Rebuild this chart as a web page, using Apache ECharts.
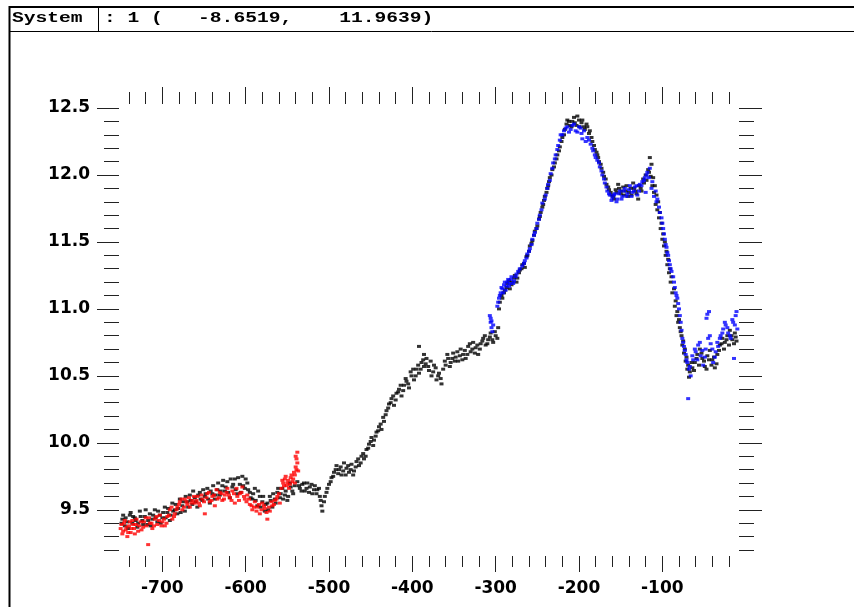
<!DOCTYPE html>
<html lang="en">
<head>
    <meta charset="UTF-8">
    <title>System 1</title>
    <script src="https://cdn.jsdelivr.net/npm/echarts@6/dist/echarts.min.js"></script>
</head>
<style>
    *{
        margin: 0;
        padding: 0;
    }
    html,body{
        width: 100%;
        height: 100%;
        overflow: hidden;
        background: #fff;
    }
    .container{
        width: 854px;
        height: 607px;
    }
</style>
<body>
<div class="container"></div>
<script>
    // tick positions
    let xMajor = [-700, -600, -500, -400, -300, -200, -100];
    let xMinor = [-740, -720, -700, -680, -660, -640, -620, -600, -580, -560, -540, -520, -500, -480, -460,
        -440, -420, -400, -380, -360, -340, -320, -300, -280, -260, -240, -220, -200, -180, -160, -140,
        -120, -100, -80, -60, -40, -20];
    let yMajor = [9.5, 10.0, 10.5, 11.0, 11.5, 12.0, 12.5];
    let yMinor = [9.2, 9.3, 9.4, 9.5, 9.6, 9.7, 9.8, 9.9, 10.0, 10.1, 10.2, 10.3, 10.4, 10.5, 10.6, 10.7,
        10.8, 10.9, 11.0, 11.1, 11.2, 11.3, 11.4, 11.5, 11.6, 11.7, 11.8, 11.9, 12.0, 12.1, 12.2, 12.3, 12.4, 12.5];

    // black points
    let blackPts = [
        [-748,9.43],[-745,9.38],[-742,9.41],[-739,9.46],[-736,9.40],[-733,9.44],[-730,9.37],[-727,9.49],[-724,9.42],
        [-721,9.45],[-718,9.39],[-715,9.47],[-712,9.43],[-709,9.50],[-706,9.41],[-703,9.46],[-700,9.44],[-697,9.52],
        [-694,9.48],[-691,9.42],[-688,9.55],[-685,9.50],[-682,9.47],[-679,9.58],[-676,9.53],[-673,9.49],[-670,9.56],
        [-667,9.61],[-664,9.54],[-661,9.59],[-658,9.52],[-655,9.63],[-652,9.57],[-649,9.60],[-646,9.66],[-643,9.55],
        [-640,9.62],[-637,9.58],[-634,9.65],[-631,9.61],[-628,9.68],[-625,9.64],[-622,9.71],[-619,9.59],[-616,9.67],
        [-613,9.73],[-610,9.62],[-607,9.69],[-604,9.75],[-601,9.66],[-598,9.70],[-595,9.63],[-592,9.58],[-589,9.66],
        [-586,9.53],[-583,9.60],[-580,9.56],[-577,9.49],[-574,9.55],[-571,9.60],[-568,9.52],[-565,9.58],[-562,9.63],
        [-559,9.59],[-556,9.66],[-553,9.61],[-550,9.57],[-547,9.70],[-544,9.64],[-541,9.68],
        [-749,9.40],[-747,9.46],[-744,9.44],[-741,9.36],[-738,9.48],[-735,9.45],[-732,9.42],[-729,9.40],[-726,9.45],
        [-723,9.39],[-720,9.50],[-717,9.42],[-714,9.38],[-711,9.46],[-708,9.44],[-705,9.49],[-702,9.40],[-699,9.48],
        [-696,9.44],[-693,9.51],[-690,9.46],[-687,9.49],[-684,9.54],[-681,9.51],[-678,9.48],[-675,9.56],[-672,9.60],
        [-669,9.52],[-666,9.57],[-663,9.64],[-660,9.56],[-657,9.61],[-654,9.58],[-651,9.65],[-648,9.62],[-645,9.58],
        [-642,9.64],[-639,9.68],[-636,9.61],[-633,9.70],[-630,9.64],[-627,9.72],[-624,9.67],[-621,9.63],[-618,9.73],
        [-615,9.69],[-612,9.65],[-609,9.74],[-606,9.63],[-603,9.68],[-600,9.73],[-597,9.65],[-594,9.59],[-591,9.62],
        [-588,9.57],[-585,9.64],[-582,9.52],[-579,9.60],[-576,9.54],[-573,9.50],[-570,9.57],[-567,9.62],[-564,9.55],
        [-561,9.66],[-558,9.62],[-555,9.58],[-552,9.64],[-549,9.60],[-546,9.67],[-543,9.62],
        [-538,9.71],[-535,9.66],[-532,9.69],[-529,9.64],[-526,9.70],[-523,9.67],[-520,9.62],[-517,9.68],[-514,9.65],
        [-511,9.60],[-509,9.53],[-508,9.49],[-506,9.56],[-503,9.63],[-500,9.69],[-497,9.74],
        [-536,9.68],[-533,9.64],[-530,9.70],[-527,9.66],[-524,9.63],[-521,9.69],[-518,9.65],[-515,9.62],[-512,9.66],
        [-510,9.57],[-505,9.60],[-502,9.66],[-498,9.71],
        [-494,9.78],[-491,9.83],[-488,9.80],[-485,9.76],[-482,9.85],[-479,9.81],[-476,9.78],[-473,9.84],[-470,9.79],
        [-467,9.86],[-464,9.83],[-461,9.90],[-458,9.88],
        [-495,9.75],[-492,9.80],[-489,9.77],[-486,9.82],[-483,9.79],[-480,9.76],[-477,9.83],[-474,9.80],[-471,9.76],
        [-468,9.82],[-465,9.88],[-462,9.85],[-459,9.92],[-456,9.90],
        [-455,9.95],[-452,9.99],[-449,10.04],[-446,10.02],[-443,10.08],[-440,10.12],[-437,10.10],[-434,10.16],
        [-453,9.96],[-450,10.01],[-447,9.98],[-444,10.05],[-441,10.09],[-438,10.14],[-435,10.19],
        [-431,10.24],[-428,10.29],[-425,10.33],[-422,10.28],[-419,10.37],[-416,10.40],[-413,10.35],[-410,10.43],
        [-407,10.46],[-404,10.41],
        [-432,10.21],[-429,10.26],[-426,10.30],[-423,10.35],[-420,10.32],[-417,10.38],[-414,10.43],[-411,10.39],
        [-408,10.48],[-405,10.44],
        [-401,10.50],[-398,10.47],[-395,10.55],[-392,10.52],[-389,10.60],[-386,10.57],[-383,10.63],[-380,10.54],
        [-377,10.50],[-374,10.58],[-371,10.47],[-368,10.52],[-365,10.44],[-392,10.72],[-386,10.66],
        [-402,10.53],[-399,10.55],[-396,10.50],[-393,10.58],[-390,10.55],[-387,10.62],[-384,10.59],[-381,10.57],
        [-378,10.61],[-375,10.53],[-372,10.56],[-369,10.50],[-366,10.48],[-363,10.55],
        [-360,10.58],[-357,10.63],[-354,10.60],[-351,10.67],[-348,10.64],[-345,10.61],[-342,10.70],[-339,10.66],
        [-336,10.63],[-333,10.72],[-330,10.68],[-327,10.75],[-324,10.71],[-321,10.66],[-318,10.74],[-315,10.78],
        [-312,10.73],[-309,10.77],[-306,10.82],[-303,10.75],[-300,10.80],[-297,10.86],
        [-361,10.61],[-358,10.66],[-355,10.57],[-352,10.63],[-349,10.61],[-346,10.68],[-343,10.65],[-340,10.62],
        [-337,10.69],[-334,10.66],[-331,10.74],[-328,10.70],[-325,10.67],[-322,10.73],[-319,10.70],[-316,10.76],
        [-313,10.80],[-310,10.74],[-307,10.79],[-304,10.77],[-301,10.83],[-298,10.78],
        [-296,11.00],[-293,11.10],[-290,11.12],[-287,11.16],[-284,11.21],[-281,11.18],[-278,11.23],[-275,11.20],
        [-272,11.27],[-269,11.30],[-266,11.34],[-263,11.39],[-260,11.43],[-257,11.49],[-254,11.55],[-251,11.60],
        [-248,11.67],[-246,11.72],[-243,11.78],[-241,11.84],[-238,11.90],[-236,11.95],[-233,12.00],[-230,12.06],
        [-227,12.12],[-224,12.18],[-221,12.25],[-218,12.30],[-215,12.38],[-212,12.40],[-209,12.36],[-206,12.43],
        [-203,12.37],[-200,12.41],[-197,12.39],[-194,12.36],[-191,12.38],[-188,12.31],[-185,12.28],[-182,12.22],
        [-179,12.17],[-177,12.13],[-174,12.08],[-171,12.02],[-168,11.97],[-165,11.91],[-162,11.87],[-159,11.84],
        [-156,11.89],[-153,11.93],[-150,11.86],[-147,11.91],[-144,11.88],[-141,11.84],[-138,11.90],[-135,11.94],
        [-132,11.88],[-129,11.82],[-126,11.90],[-123,11.97],[-120,12.00],[-117,12.04],[-115,12.13],[-113,12.08],
        [-111,11.98],[-109,11.92],[-107,11.85],[-105,11.80],[-103,11.72],[-101,11.64],[-99,11.56],[-97,11.50],
        [-95,11.43],[-93,11.37],[-91,11.30],[-89,11.24],[-86,11.15],[-84,11.06],[-82,10.98],[-80,10.92],
        [-79,10.86],[-77,10.80],[-75,10.76],[-73,10.70],[-71,10.64],[-69,10.58],[-67,10.53],[-64,10.56],
        [-61,10.60],[-58,10.66],[-55,10.70],[-52,10.63],[-49,10.57],[-46,10.65],[-43,10.69],[-40,10.62],
        [-37,10.56],[-34,10.66],[-31,10.73],[-28,10.78],[-25,10.75],[-22,10.80],[-19,10.84],[-16,10.77],
        [-13,10.82],[-11,10.76],
        [-295,11.05],[-292,11.08],[-289,11.14],[-286,11.19],[-283,11.15],[-280,11.20],[-277,11.25],[-274,11.23],
        [-271,11.29],[-268,11.33],[-265,11.31],[-262,11.40],[-259,11.47],[-256,11.51],[-253,11.58],[-250,11.62],
        [-247,11.69],[-244,11.76],[-242,11.81],[-239,11.87],[-237,11.92],[-235,11.98],[-232,12.04],[-229,12.09],
        [-226,12.15],[-223,12.21],[-220,12.28],[-217,12.34],[-214,12.41],[-211,12.37],[-208,12.40],[-205,12.39],
        [-202,12.44],[-199,12.36],[-196,12.41],[-193,12.34],[-190,12.36],[-187,12.33],[-184,12.25],[-181,12.19],
        [-178,12.15],[-176,12.10],[-173,12.05],[-170,11.99],[-167,11.93],[-164,11.89],[-161,11.85],[-158,11.82],
        [-155,11.87],[-152,11.90],[-149,11.88],[-146,11.85],[-143,11.92],[-140,11.87],[-137,11.85],[-134,11.90],
        [-131,11.86],[-128,11.92],[-125,11.88],[-122,11.94],[-119,11.96],[-116,12.02],[-114,11.99],[-112,11.92],
        [-110,11.87],[-108,11.78],[-106,11.74],[-104,11.68],[-102,11.60],[-100,11.52],[-98,11.47],[-96,11.40],
        [-94,11.33],[-92,11.27],[-90,11.20],[-88,11.12],[-85,11.02],[-83,10.95],[-81,10.90],[-78,10.83],
        [-76,10.73],[-74,10.67],[-72,10.61],[-70,10.55],[-68,10.49],[-65,10.60],[-62,10.54],[-59,10.63],
        [-56,10.58],[-53,10.67],[-50,10.61],[-47,10.55],[-44,10.62],[-41,10.58],[-38,10.64],[-35,10.59],
        [-32,10.69],[-29,10.74],[-26,10.70],[-23,10.77],[-20,10.73],[-17,10.80],[-14,10.74],[-12,10.79]
    ];

    // red points
    let redPts = [
        [-750,9.36],[-748,9.32],[-746,9.40],[-744,9.35],[-742,9.30],[-740,9.38],[-738,9.33],[-736,9.42],[-734,9.36],
        [-732,9.39],[-729,9.34],[-726,9.41],[-723,9.37],[-720,9.44],[-717,9.24],[-715,9.40],[-712,9.36],[-709,9.43],
        [-706,9.39],[-703,9.46],[-700,9.41],[-697,9.38],[-694,9.45],[-691,9.50],[-688,9.43],[-685,9.47],[-682,9.52],
        [-679,9.56],[-676,9.50],[-673,9.58],[-670,9.54],[-667,9.52],[-664,9.57],[-661,9.55],[-658,9.60],[-655,9.53],
        [-652,9.58],[-649,9.47],[-646,9.62],[-643,9.56],[-640,9.60],[-637,9.53],[-634,9.58],[-631,9.63],[-628,9.57],
        [-625,9.61],[-622,9.66],[-619,9.59],[-616,9.64],[-613,9.55],[-610,9.60],[-607,9.62],[-604,9.67],[-601,9.58],
        [-598,9.61],[-595,9.54],[-592,9.50],[-589,9.56],[-586,9.52],[-583,9.47],[-580,9.55],[-577,9.51],[-574,9.43],
        [-571,9.49],[-568,9.53],[-565,9.57],[-562,9.60],[-559,9.55],[-556,9.72],[-554,9.68],[-552,9.75],[-550,9.70],
        [-548,9.66],[-546,9.74],[-544,9.71],[-542,9.78],[-540,9.82],[-539,9.88],[-538,9.93],[-537,9.79],[-541,9.76],
        [-749,9.39],[-747,9.34],[-745,9.42],[-743,9.37],[-741,9.33],[-739,9.41],[-737,9.36],[-735,9.39],[-733,9.32],
        [-731,9.43],[-728,9.38],[-725,9.35],[-722,9.41],[-719,9.38],[-716,9.44],[-713,9.40],[-710,9.38],[-707,9.45],
        [-704,9.42],[-701,9.38],[-698,9.43],[-695,9.40],[-692,9.46],[-689,9.52],[-686,9.45],[-683,9.50],[-680,9.54],
        [-677,9.58],[-674,9.52],[-671,9.56],[-668,9.59],[-665,9.55],[-662,9.60],[-659,9.57],[-656,9.55],[-653,9.61],
        [-650,9.56],[-647,9.59],[-644,9.63],[-641,9.57],[-638,9.61],[-635,9.65],[-632,9.59],[-629,9.62],[-626,9.58],
        [-623,9.63],[-620,9.61],[-617,9.57],[-614,9.62],[-611,9.66],[-608,9.57],[-605,9.63],[-602,9.60],[-599,9.56],
        [-596,9.58],[-593,9.53],[-590,9.52],[-587,9.49],[-584,9.54],[-581,9.50],[-578,9.53],[-575,9.48],[-572,9.52],
        [-569,9.56],[-566,9.54],[-563,9.58],[-560,9.62],[-557,9.66],[-555,9.70],[-553,9.73],[-551,9.68],[-549,9.72],
        [-547,9.69],[-545,9.76],[-543,9.73],[-541,9.70],[-539,9.80],[-538,9.85],[-540,9.90]
    ];

    // blue points
    let bluePts = [
        [-307,10.95],[-306,10.90],[-305,10.86],[-304,10.83],[-306,10.93],
        [-298,11.02],[-296,11.08],[-294,11.12],[-292,11.15],[-290,11.18],[-288,11.14],[-286,11.20],[-284,11.17],
        [-282,11.22],[-279,11.19],[-276,11.24],[-273,11.28],
        [-268,11.32],[-265,11.36],[-262,11.41],[-259,11.45],[-256,11.52],[-253,11.57],[-250,11.64],[-247,11.70],[-245,11.74],
        [-240,11.85],[-237,11.93],[-234,12.01],[-231,12.09],[-228,12.15],[-225,12.22],
        [-222,12.30],[-218,12.33],[-214,12.36],[-210,12.34],[-206,12.38],[-202,12.32],[-198,12.35],[-194,12.33],
        [-196,12.27],[-192,12.25],[-188,12.26],
        [-184,12.20],[-181,12.15],[-178,12.11],[-175,12.06],[-172,12.00],[-169,11.94],[-166,11.88],[-163,11.85],
        [-160,11.83],[-157,11.86],[-154,11.82],[-151,11.88],[-148,11.84],[-145,11.90],[-142,11.86],[-139,11.92],
        [-136,11.87],[-133,11.91],[-130,11.85],[-127,11.93],[-124,11.95],[-121,11.98],[-118,12.02],[-115,12.05],
        [-120,11.87],[-112,11.95],
        [-108,11.88],[-106,11.82],[-104,11.76],[-101,11.68],[-99,11.60],[-97,11.52],[-95,11.46],[-93,11.40],
        [-91,11.33],[-89,11.28],[-86,11.20],[-84,11.12],[-82,11.08],[-80,11.00],[-79,10.95],[-77,10.84],
        [-76,10.78],[-74,10.72],[-72,10.66],[-70,10.60],[-68,10.55],[-66,10.50],[-69,10.33],
        [-63,10.62],[-60,10.68],[-57,10.73],[-54,10.65],[-51,10.58],[-48,10.70],[-46,10.96],[-44,10.98],
        [-45,10.78],[-42,10.74],[-39,10.60],[-36,10.68],[-33,10.72],[-30,10.80],[-27,10.85],[-24,10.88],
        [-21,10.82],[-18,10.78],[-15,10.90],[-12,10.95],[-10,10.85],[-14,10.63],
        [-305,10.91],[-303,10.88],[-297,11.05],[-295,11.10],[-293,11.16],[-291,11.12],[-289,11.20],[-287,11.17],
        [-285,11.22],[-283,11.19],[-281,11.24],[-278,11.21],[-275,11.26],[-271,11.30],[-266,11.34],[-263,11.38],
        [-260,11.43],[-257,11.48],[-254,11.55],[-251,11.60],[-248,11.67],[-244,11.79],[-241,11.82],[-238,11.90],
        [-235,11.96],[-232,12.05],[-229,12.12],[-226,12.19],[-223,12.26],[-220,12.30],[-216,12.35],[-212,12.32],
        [-208,12.37],[-204,12.33],[-200,12.36],[-197,12.31],[-190,12.28],[-186,12.23],[-183,12.18],[-180,12.13],
        [-176,12.09],[-173,12.03],[-170,11.97],[-167,11.91],[-164,11.86],[-161,11.81],[-158,11.85],[-155,11.80],
        [-152,11.86],[-149,11.82],[-146,11.88],[-143,11.84],[-140,11.89],[-137,11.84],[-134,11.88],[-131,11.92],
        [-128,11.88],[-125,11.92],[-122,11.96],[-119,12.00],[-116,11.98],[-113,11.90],[-110,11.84],[-107,11.80],
        [-103,11.72],[-100,11.64],[-98,11.56],[-96,11.48],[-94,11.42],[-92,11.36],[-90,11.30],[-87,11.24],
        [-85,11.16],[-83,11.10],[-81,11.04],[-78,10.90],[-75,10.75],[-73,10.69],[-71,10.62],[-67,10.57],
        [-64,10.65],[-61,10.70],[-58,10.62],[-55,10.75],[-52,10.69],[-49,10.64],[-47,10.93],[-43,10.80],
        [-40,10.70],[-37,10.64],[-34,10.75],[-31,10.78],[-28,10.82],[-25,10.90],[-22,10.86],[-19,10.80],
        [-16,10.92],[-13,10.88],[-11,10.98]
    ];

    let container = document.querySelector('.container');
    let mycharts = echarts.init(container);

    let labelFont = {
        color: '#000',
        fontFamily: 'DejaVu Sans',
        fontWeight: 'bold',
        fontSize: 17
    };

    function xAx(position, ticks, len, withLabel) {
        return {
            type: 'value',
            position: position,
            min: -752,
            max: -8,
            axisLine: {show: false},
            splitLine: {show: false},
            axisTick: {
                show: true,
                inside: false,
                length: len,
                customValues: ticks,
                lineStyle: {color: '#222', width: 1}
            },
            axisLabel: Object.assign({
                show: withLabel,
                margin: 24,
                customValues: ticks,
                formatter: v => String(v)
            }, labelFont)
        };
    }

    function yAx(position, ticks, len, withLabel) {
        return {
            type: 'value',
            position: position,
            min: 9.155,
            max: 12.53,
            axisLine: {show: false},
            splitLine: {show: false},
            axisTick: {
                show: true,
                inside: false,
                length: len,
                customValues: ticks,
                lineStyle: {color: '#222', width: 1}
            },
            axisLabel: Object.assign({
                show: withLabel,
                margin: 29,
                customValues: ticks,
                formatter: v => v.toFixed(1)
            }, labelFont)
        };
    }

    function pts(name, data, color) {
        return {
            name: name,
            type: 'scatter',
            data: data,
            symbol: 'rect',
            symbolSize: [4, 3],
            itemStyle: {color: color},
            silent: true
        };
    }

    let option = {
        animation: false,
        backgroundColor: '#fff',
        grid: {left: 119, right: 115, top: 104, bottom: 51},
        xAxis: [
            xAx('bottom', xMajor, 16, true),
            xAx('bottom', xMinor, 11, false),
            xAx('top', xMajor, 17, false),
            xAx('top', xMinor, 12, false)
        ],
        yAxis: [
            yAx('left', yMajor, 22, true),
            yAx('left', yMinor, 15, false),
            yAx('right', yMajor, 23, false),
            yAx('right', yMinor, 15, false)
        ],
        series: [
            pts('black', blackPts, '#000'),
            pts('red', redPts, '#ff0000'),
            pts('blue', bluePts, '#0000ff')
        ],
        graphic: [
            {type: 'line', shape: {x1: 9, y1: 7, x2: 854, y2: 7}, style: {stroke: '#000', lineWidth: 2}},
            {type: 'line', shape: {x1: 9, y1: 31.5, x2: 854, y2: 31.5}, style: {stroke: '#000', lineWidth: 1}},
            {type: 'line', shape: {x1: 9.5, y1: 6, x2: 9.5, y2: 607}, style: {stroke: '#000', lineWidth: 2}},
            {type: 'line', shape: {x1: 98.5, y1: 7, x2: 98.5, y2: 31}, style: {stroke: '#000', lineWidth: 1}},
            {
                type: 'text', x: 12, y: 11, scaleX: 1.4,
                style: {text: 'System', fill: '#000', font: 'bold 14px "Liberation Mono"'}
            },
            {
                type: 'text', x: 104, y: 11, scaleX: 1.4,
                style: {text: ': 1 (   -8.6519,    11.9639)', fill: '#000', font: 'bold 14px "Liberation Mono"'}
            }
        ]
    };

    mycharts.setOption(option);
</script>
</body>
</html>
